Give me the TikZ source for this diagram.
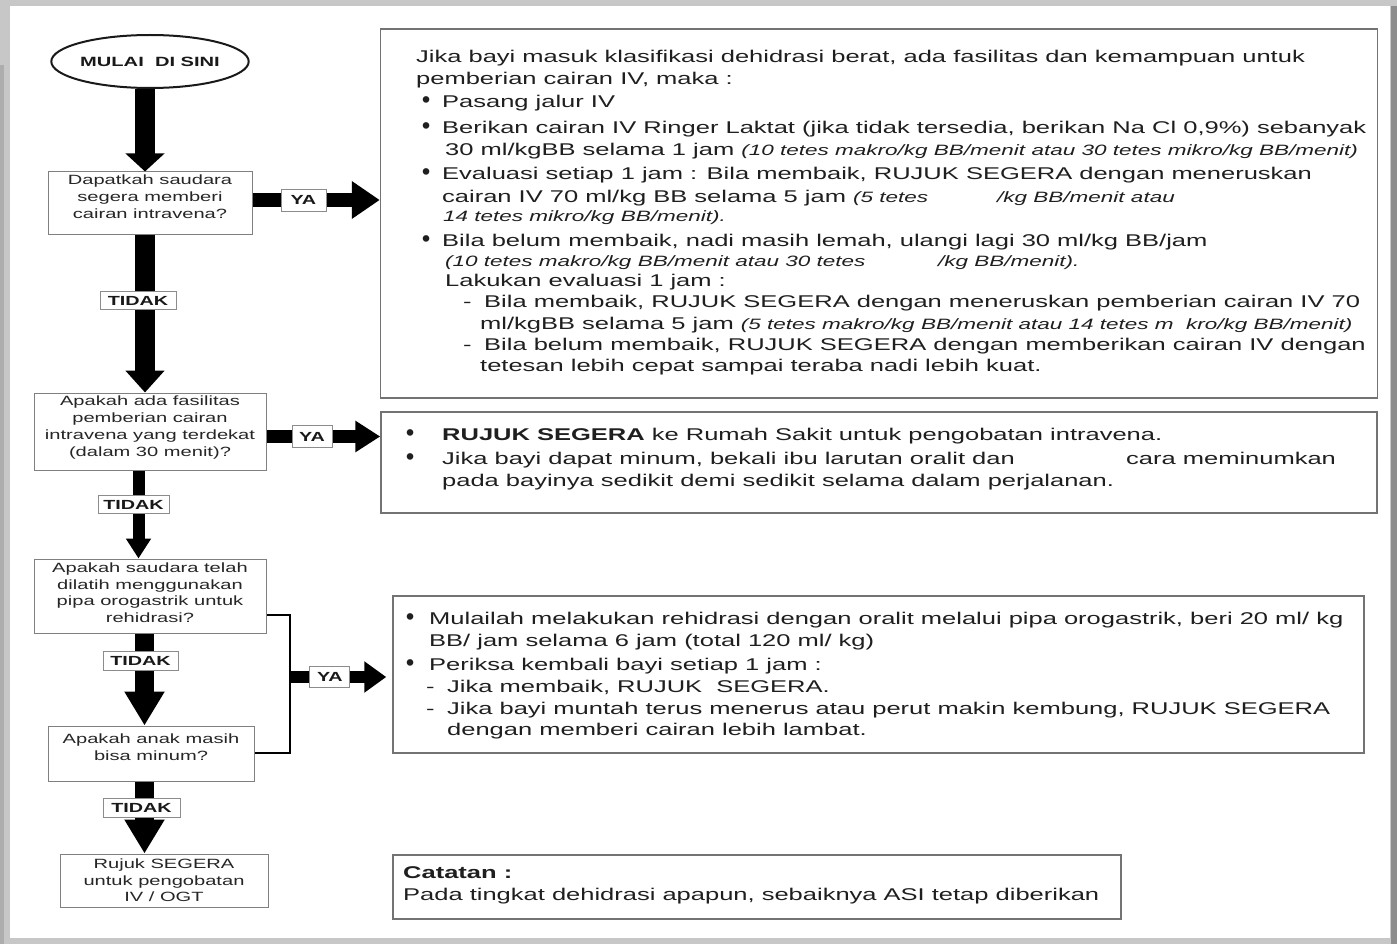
\documentclass[tikz,border=0pt]{standalone}
\usepackage{fontspec}
\setmainfont{Liberation Sans}[FakeStretch=1.5]
\newfontfamily\pl{Liberation Sans}
\usetikzlibrary{arrows.meta,shapes.geometric}
\newcommand\bul[1]{\makebox[#1pt][l]{\pl\bfseries\fontsize{23}{20}\selectfont •}}
\newcommand\dsh[1]{\makebox[#1pt][l]{-}}
\newcommand\sm[1]{{\fontsize{15}{18}\selectfont\itshape #1}}
\tikzset{
  ba/.style n args={3}{draw=black, line width=#1, -{Triangle[width=#2,length=#3]}},
  lbox/.style={draw=black!50, line width=1pt, align=center, inner sep=0pt,
    text=black!85, font=\fontsize{13.4}{16.7}\selectfont},
  rbox/.style={draw=black!55, line width=1.5pt, inner sep=0pt},
  lbl/.style={draw=black!45, fill=white, line width=0.8pt, inner sep=0pt,
    text=black!90, font=\bfseries\fontsize{13.2}{16}\selectfont},
  rt/.style={anchor=base west, inner sep=0pt, text=black!88,
    font=\fontsize{17}{20}\selectfont},
}
\begin{document}
\begin{tikzpicture}[x=1pt,y=-1pt]
\useasboundingbox (0,0) rectangle (1397,944);
% page frame
\fill[black!22] (0,0) rectangle (1397,944);
\fill[white] (10,6) rectangle (1390,938);
\fill[black!45] (1391,6) rectangle (1397,944);
\fill[black!32] (0,65) rectangle (4,944);

% left column
\node[draw=black!90, ellipse, line width=2pt, minimum width=178pt, minimum height=53pt,
  inner sep=0pt, text=black!90, font=\bfseries\fontsize{13.4}{16}\selectfont] (start) at (150,61.5) {MULAI\ \ DI SINI};
\node[lbox, minimum width=204pt, minimum height=62pt] (b1) at (150,203)
  {Dapatkah saudara\\segera memberi\\cairan intravena?\\[-4pt]};
\node[lbox, minimum width=232pt, minimum height=77pt] (b2) at (150,431.5)
  {Apakah ada fasilitas\\pemberian cairan\\intravena yang terdekat\\(dalam 30 menit)?\\[-6pt]};
\node[lbox, minimum width=232pt, minimum height=74pt] (b3) at (150,596)
  {Apakah saudara telah\\dilatih menggunakan\\pipa orogastrik untuk\\rehidrasi?\\[-10pt]};
\node[lbox, minimum width=206pt, minimum height=55pt] (b4) at (151,753.5)
  {Apakah anak masih\\bisa minum?\\[-4pt]};
\node[lbox, minimum width=208pt, minimum height=53pt] (b5) at (164,880.5)
  {Rujuk SEGERA\\untuk pengobatan\\IV / OGT};

% right boxes
\node[rbox, minimum width=997pt, minimum height=369pt] (rb1) at (879,213.5) {};
\node[rbox, minimum width=996pt, minimum height=101pt] (rb2) at (879,462.5) {};
\node[rbox, minimum width=971pt, minimum height=157pt] (rb3) at (878.5,674.5) {};
\node[rbox, minimum width=728pt, minimum height=64pt] (rb4) at (757,887) {};

% column coordinates
\coordinate (c1) at (145,0);
\coordinate (c2) at (138.5,0);
\coordinate (c3) at (144.5,0);
\coordinate (r1) at (0,200);
\coordinate (r2) at (0,436.5);
\coordinate (kT) at (290,615);
\coordinate (kM) at (290,677);
\coordinate (kB) at (290,753);

% vertical arrows
\draw[ba={20pt}{38pt}{18pt}] (start.south -| c1) -- (b1.north -| c1);
\draw[ba={20pt}{38pt}{22pt}] (b1.south -| c1) --
  node[lbl, pos=.42, xshift=-7pt, minimum width=76pt, minimum height=18pt] (t1) {TIDAK} (b2.north -| c1);
\draw[ba={12pt}{24pt}{20pt}] (b2.south -| c2) --
  node[lbl, pos=.39, xshift=-5pt, minimum width=71pt, minimum height=18pt] (t2) {TIDAK} (b3.north -| c2);
\draw[ba={19pt}{38pt}{34pt}] (b3.south -| c3) --
  node[lbl, pos=.30, xshift=-4pt, minimum width=75pt, minimum height=19pt] (t3) {TIDAK} (b4.north -| c3);
\draw[ba={19pt}{38pt}{34pt}] (b4.south -| c3) --
  node[lbl, pos=.37, xshift=-3pt, minimum width=77pt, minimum height=19pt] (t4) {TIDAK} (b5.north -| c3);

% horizontal arrows
\draw[ba={14pt}{36pt}{28pt}] (b1.east |- r1) --
  node[lbl, pos=.40, minimum width=45pt, minimum height=22pt] (y1) {YA} (rb1.west |- r1);
\draw[ba={13pt}{30pt}{25pt}] (b2.east |- r2) --
  node[lbl, pos=.40, minimum width=40pt, minimum height=22pt] (y2) {YA} (rb2.west |- r2);
\draw[line width=1.5pt, black] (b3.east |- kT) -- (kT) -- (kB) -- (b4.east |- kB);
\draw[ba={12pt}{30pt}{22pt}, shorten >=6pt] (kM) --
  node[lbl, pos=.39, minimum width=40pt, minimum height=21pt] (y3) {YA} (rb3.west |- kM);

% text of box 1
\node[rt] (r1a) at (416,63) {Jika bayi masuk klasifikasi dehidrasi berat, ada fasilitas dan kemampuan untuk};
\node[rt] (r1b) at (416,85) {pemberian cairan IV, maka :};
\node[rt] (r1c) at (422,108) {\bul{20}Pasang jalur IV};
\node[rt] (r1d) at (422,134) {\bul{20}Berikan cairan IV Ringer Laktat (jika tidak tersedia, berikan Na Cl 0,9\%) sebanyak};
\node[rt] (r1e) at (445,156) {30 ml/kgBB selama 1 jam \sm{(10 tetes makro/kg BB/menit atau 30 tetes mikro/kg BB/menit)}};
\node[rt] (r1f) at (422,180) {\bul{20}Evaluasi setiap 1 jam : Bila membaik, RUJUK SEGERA dengan meneruskan};
\node[rt] (r1g) at (442,203) {cairan IV 70 ml/kg BB selama 5 jam \sm{(5 tetes}};
\node[rt] (r1g2) at (997,203) {\sm{/kg BB/menit atau}};
\node[rt] (r1h) at (443,222) {\sm{14 tetes mikro/kg BB/menit).}};
\node[rt] (r1i) at (422,246) {\bul{20}Bila belum membaik, nadi masih lemah, ulangi lagi 30 ml/kg BB/jam};
\node[rt] (r1j) at (445,266) {\sm{(10 tetes makro/kg BB/menit atau 30 tetes}};
\node[rt] (r1j2) at (938,266) {\sm{/kg BB/menit).}};
\node[rt] (r1k) at (445,286) {Lakukan evaluasi 1 jam :};
\node[rt] (r1l) at (463,307) {\dsh{21}Bila membaik, RUJUK SEGERA dengan meneruskan pemberian cairan IV 70};
\node[rt] (r1m) at (480,329) {ml/kgBB selama 5 jam \sm{(5 tetes makro/kg BB/menit atau 14 tetes m\ \ kro/kg BB/menit)}};
\node[rt] (r1n) at (463,350) {\dsh{21}Bila belum membaik, RUJUK SEGERA dengan memberikan cairan IV dengan};
\node[rt] (r1o) at (480,371) {tetesan lebih cepat sampai teraba nadi lebih kuat.};

% text of box 2
\node[rt] (r2a) at (406,440) {\bul{36}\textbf{RUJUK SEGERA} ke Rumah Sakit untuk pengobatan intravena.};
\node[rt] (r2b) at (406,464) {\bul{36}Jika bayi dapat minum, bekali ibu larutan oralit dan};
\node[rt] (r2b2) at (1126,464) {cara meminumkan};
\node[rt] (r2c) at (442,486) {pada bayinya sedikit demi sedikit selama dalam perjalanan.};

% text of box 3
\node[rt] (r3a) at (406,624) {\bul{23}Mulailah melakukan rehidrasi dengan oralit melalui pipa orogastrik, beri 20 ml/ kg};
\node[rt] (r3b) at (429,646) {BB/ jam selama 6 jam (total 120 ml/ kg)};
\node[rt] (r3c) at (406,670) {\bul{23}Periksa kembali bayi setiap 1 jam :};
\node[rt] (r3d) at (426,692) {\dsh{21}Jika membaik, RUJUK\ \ SEGERA.};
\node[rt] (r3e) at (426,714) {\dsh{21}Jika bayi muntah terus menerus atau perut makin kembung, RUJUK SEGERA};
\node[rt] (r3f) at (447,735) {dengan memberi cairan lebih lambat.};

% text of box 4
\node[rt] (r4a) at (403,878) {\textbf{Catatan :}};
\node[rt] (r4b) at (403,900) {Pada tingkat dehidrasi apapun, sebaiknya ASI tetap diberikan};
\end{tikzpicture}
\end{document}
